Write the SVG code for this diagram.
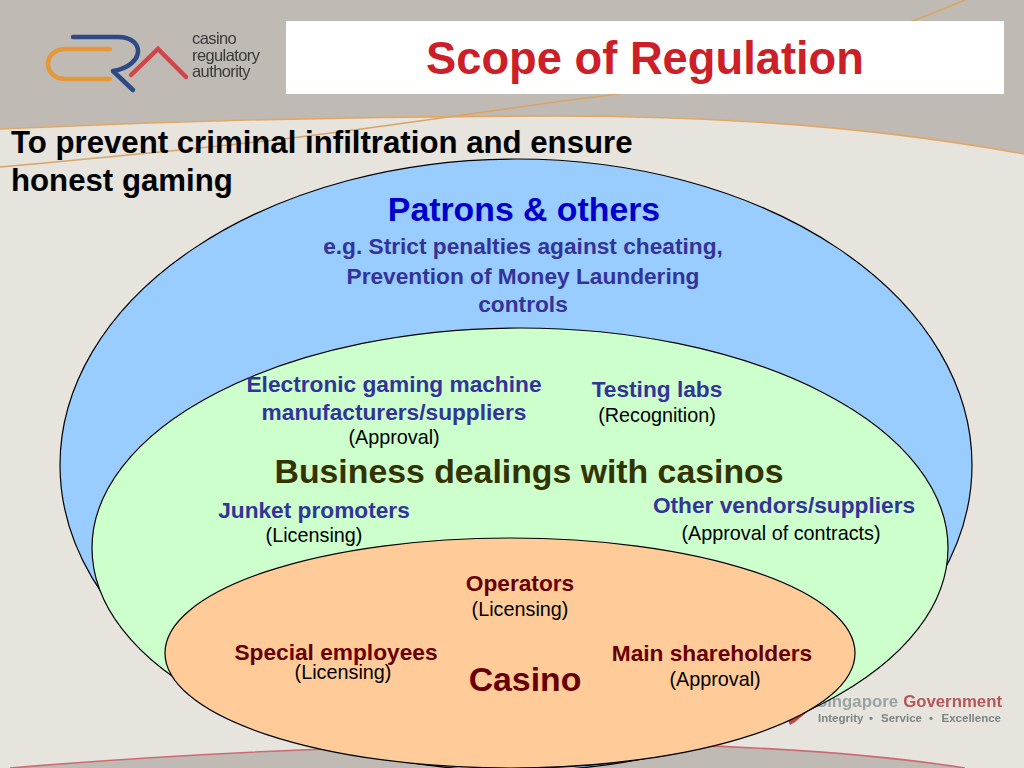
<svg xmlns="http://www.w3.org/2000/svg" width="1024" height="768" viewBox="0 0 1024 768">
<defs><filter id="soft" x="-5%" y="-20%" width="110%" height="140%"><feGaussianBlur stdDeviation="0.5"/></filter></defs>
<style>
text{font-family:"Liberation Sans",Arial,sans-serif;text-anchor:middle}
.b{font-weight:bold}
.navy{fill:#333399;font-weight:bold;font-size:22.700px}
.dk{fill:#660000;font-weight:bold;font-size:22.700px}
.k{fill:#000;font-size:19.800px}
.e{stroke:#000;stroke-width:1.2}
.s{text-anchor:start}
.logo{font-size:16.500px;fill:#3a3a3a;text-anchor:start;letter-spacing:-.6px}
.gov{font-size:11.500px;fill:#7b8484;font-weight:bold}
</style>
<g id="background">
<rect width="1024" height="768" fill="#e6e4dd"/>
<path d="M0 0H1024V154C860 124 700 116 560 116C340 116 150 122 0 129Z" fill="#bfbab3"/>
<path d="M0 129C150 122 340 116 560 116C700 116 860 124 1024 154" fill="none" stroke="#e0a868" stroke-width="1.6"/>
<path d="M0 167C100 158 200 149 300 137C420 122 520 106 610 95C760 76 880 36 965 0" fill="none" stroke="#d9a468" stroke-width="1.6"/>
<path d="M10 768C200 752 400 745 560 744C700 743 850 750 965 768Z" fill="#bfbab3"/>
<path d="M10 768C200 752 400 745 560 744C700 743 850 750 965 768" fill="none" stroke="#cc6a70" stroke-width="1.6"/>
</g>
<g id="logo" fill="none" stroke-linecap="round">
<path d="M110 49H66C42 49 42 79 66 79H110" stroke="#e5983a" stroke-width="4.500"/>
<path d="M73 37H118C145 37 146 65 113 71L133 90" stroke="#2d4a85" stroke-width="4.500" stroke-linejoin="round"/>
<path d="M131 75L158 49L186 77" stroke="#d2444a" stroke-width="4.500"/>
<g filter="url(#soft)">
<text x="192" y="44" class="logo">casino</text>
<text x="192" y="60.500" class="logo">regulatory</text>
<text x="192" y="76.500" class="logo">authority</text>
</g>
</g>
<g id="title">
<rect x="286" y="21" width="718" height="73" fill="#fff"/>
<text x="645" y="74" class="b" font-size="45.300" fill="#cc1f27">Scope of Regulation</text>
</g>
<g id="subtitle" class="b" font-size="31.200" fill="#000">
<text x="11" y="153" class="s">To prevent criminal infiltration and ensure</text>
<text x="11" y="191" class="s">honest gaming</text>
</g>
<g id="government" filter="url(#soft)">
<path d="M787 718L790 725L795 722L812 708Z" fill="#c0444a"/>
<text x="898" y="707" class="b" font-size="16.800" fill="#9aa3a3" style="text-anchor:end">Singapore</text>
<text x="1002" y="707" class="b" font-size="16.800" fill="#b8555a" style="text-anchor:end">Government</text>
<text x="818" y="722" class="gov s">Integrity</text>
<text x="871" y="722" class="gov">•</text>
<text x="881" y="722" class="gov s">Service</text>
<text x="931" y="722" class="gov">•</text>
<text x="1001" y="722" class="gov" style="text-anchor:end">Excellence</text>
</g>
<g id="patrons">
<ellipse class="e" cx="516" cy="465" rx="456" ry="306" fill="#99ccff"/>
<text x="524" y="221" class="b" font-size="33.800" fill="#0000cc">Patrons &amp; others</text>
<text x="523" y="254" class="navy">e.g. Strict penalties against cheating,</text>
<text x="523" y="284" class="navy">Prevention of Money Laundering</text>
<text x="523" y="312" class="navy">controls</text>
</g>
<g id="business">
<ellipse class="e" cx="520" cy="548" rx="428" ry="220" fill="#ccffcc"/>
<text x="394" y="392" class="navy">Electronic gaming machine</text>
<text x="394" y="420" class="navy">manufacturers/suppliers</text>
<text x="394" y="444" class="k">(Approval)</text>
<text x="657" y="397" class="navy">Testing labs</text>
<text x="657" y="422" class="k">(Recognition)</text>
<text x="529" y="483" class="b" font-size="33.800" fill="#333300">Business dealings with casinos</text>
<text x="314" y="518" class="navy">Junket promoters</text>
<text x="314" y="542" class="k">(Licensing)</text>
<text x="784" y="513" class="navy">Other vendors/suppliers</text>
<text x="781" y="540" class="k">(Approval of contracts)</text>
</g>
<g id="casino">
<ellipse class="e" cx="510" cy="653" rx="345" ry="115" fill="#ffcc99"/>
<text x="520" y="591" class="dk">Operators</text>
<text x="520" y="616" class="k">(Licensing)</text>
<text x="336" y="660" class="dk">Special employees</text>
<text x="343" y="679" class="k">(Licensing)</text>
<text x="712" y="661" class="dk">Main shareholders</text>
<text x="715" y="686" class="k">(Approval)</text>
<text x="525" y="691" class="b" font-size="33.800" fill="#660000">Casino</text>
</g>
</svg>
